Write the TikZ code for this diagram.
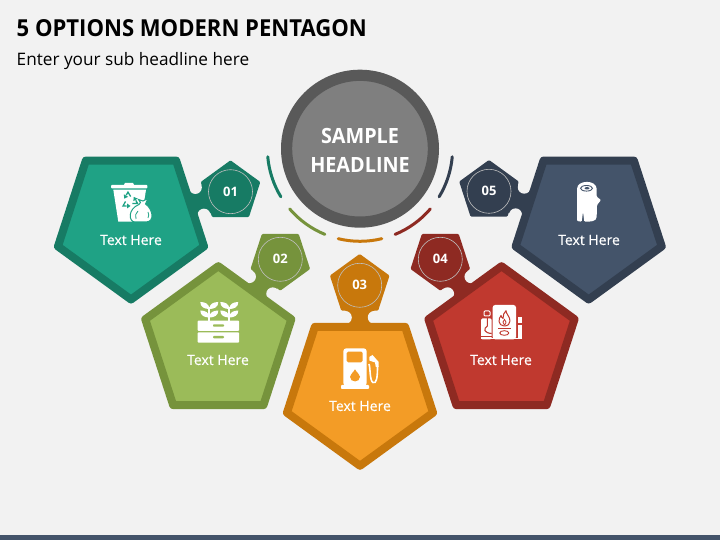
\documentclass[tikz,border=0pt]{standalone}
\usepackage{fontspec}
\setmainfont{Open Sans}
\newfontfamily\narrowfont[FakeStretch=0.943]{Open Sans}
\newfontfamily\labelfont[FakeBold=0.25]{Open Sans}
\usetikzlibrary{shapes.geometric,calc,backgrounds}
\definecolor{pagegray}{HTML}{F2F2F2}
\definecolor{hubdark}{HTML}{595959}
\definecolor{hublight}{HTML}{7F7F7F}
\definecolor{stripblue}{HTML}{44546A}
\definecolor{optdark1}{HTML}{177B64}
\definecolor{optlight1}{HTML}{1FA285}
\definecolor{optdark2}{HTML}{76933C}
\definecolor{optlight2}{HTML}{9BBB59}
\definecolor{optdark3}{HTML}{C8780C}
\definecolor{optlight3}{HTML}{F39C26}
\definecolor{optdark4}{HTML}{8E2A22}
\definecolor{optlight4}{HTML}{C0392F}
\definecolor{optdark5}{HTML}{333F50}
\definecolor{optlight5}{HTML}{44546A}
\tikzset{
    bigpent/.style={regular polygon, regular polygon sides=5, minimum size=153.6pt,
        inner sep=0pt, outer sep=0pt, line width=8pt, line join=round},
    smallpent/.style={regular polygon, regular polygon sides=5, minimum size=59pt,
        inner sep=0pt, outer sep=0pt, line width=3pt, line join=round},
    numring/.style={circle, draw=white!75!black, line width=0.6pt, minimum size=44pt,
        inner sep=0pt, text=white, font=\fontsize{13}{13}\selectfont\bfseries},
    optlabel/.style={text=white, inner sep=0pt, font=\labelfont\fontsize{14}{14}\selectfont},
    neck/.style={line width=29pt},
    guidearc/.style={line width=3pt, line cap=round}
}
\begin{document}
\begin{tikzpicture}[x=1pt,y=1pt]
    \useasboundingbox (0,0) rectangle (720,540);
    % Heading
    \node[anchor=base west, inner sep=0pt, font=\narrowfont\fontsize{23.4}{24}\selectfont\bfseries] (title) at (16.5,503.3) {5 OPTIONS MODERN PENTAGON};
    \node[anchor=base west, inner sep=0pt, font=\fontsize{17.2}{18}\selectfont] (subtitle) at (16.5,474) {Enter your sub headline here};
    % Hub
    \node[circle, draw=hubdark, fill=hublight, line width=11.2pt, minimum size=146.8pt, inner sep=0pt, outer sep=0pt] (hub) at (360,391.3) {};
    \node[text=white, align=center, inner sep=0pt, font=\narrowfont\fontsize{21}{29.3}\selectfont\bfseries] (hubtext) at (360,389.3) {SAMPLE\\HEADLINE};
    % Pentagons
    \foreach \i/\bx/\by/\brot/\sx/\sy/\srot in {
        1/131/317.3/180/230.5/348.3/0,
        2/218.3/197/0/280.3/280.7/180,
        3/360/151/180/359.7/254.7/0,
        4/501.5/197/0/440.3/280.7/180,
        5/588.7/317.3/180/489/348.7/0} {
        \node[bigpent, draw=optdark\i, fill=optlight\i, shape border rotate=\brot] (big\i) at (\bx,\by) {};
        \node[smallpent, draw=optdark\i, fill=optdark\i, shape border rotate=\srot] (small\i) at (\sx,\sy) {};
        \node[numring] (ring\i) at (small\i) {0\i};
    }
    \foreach \i/\lx/\ly in {1/131/300, 2/218/180, 3/360/134, 4/501/180, 5/589/300} {
        \node[optlabel] (label\i) at (\lx,\ly) {Text Here};
    }
    % Arcs round the hub
    \foreach \i/\a/\b in {1/185/211.3, 2/220.6/247.7, 3/256.4/283.6, 4/292.3/319.4, 5/328.7/355} {
        \draw[guidearc, optdark\i] ($(hub)+(\a:92.6pt)$) arc[start angle=\a, end angle=\b, radius=92.6pt];
    }
    % Page, strip and necks go under the pentagons
    \begin{scope}[on background layer]
        \fill[pagegray] (0,0) rectangle (720,540);
        \fill[stripblue] (0,0) rectangle (720,5);
        \foreach \i in {1,...,5} {
            \draw[neck, optdark\i] (big\i.center) -- (small\i.center);
            \fill[pagegray] ($(big\i)!0.69!(small\i)!14.5pt!90:(small\i)$) circle[radius=6.5pt];
            \fill[pagegray] ($(big\i)!0.69!(small\i)!14.5pt!-90:(small\i)$) circle[radius=6.5pt];
        }
    \end{scope}
    % Icons, in the coordinates of the page seen from the top
    \begin{scope}[shift={(0,540)},y=-1pt]
        % bin and bag
        \fill[white] (124,185) -- (125,183) -- (133,183) -- (134,185) -- cycle;
        \fill[white, rounded corners=0.8pt] (111,185) rectangle (147.3,188.3);
        \fill[white] (113.3,189.7) -- (146,189.7) -- (141,221.7) -- (118.3,221.7) -- cycle;
        \foreach \a in {0,120,240} {
            \draw[optlight1, line width=1.3pt, rotate around={\a:(129.5,200.5)}] (126.5,206) -- (123,206) -- (125.5,201.5);
            \fill[optlight1, rotate around={\a:(129.5,200.5)}] (127,203.5) -- (127,208.5) -- (130.5,206) -- cycle;
        }
        \draw[fill=white, draw=optlight1, line width=1pt] (135,222) .. controls (128.5,222) and (127.5,209) .. (139,204.5) -- (140.5,202.5) -- (138.5,199.5) -- (143,201) -- (148,198.5) -- (145.5,204) .. controls (153,209) and (155,222) .. (146,222) -- cycle;
        \draw[optlight1, line width=0.8pt] (138,211) .. controls (135.5,213) and (135,216) .. (136,219);
        \draw[optlight1, line width=0.8pt] (148,212) .. controls (149,214) and (149,216) .. (148,218);
        % planter
        \foreach \sx in {209.3,229.3} {
            \fill[white] (\sx-1,307) rectangle (\sx+1,321);
            \foreach \lfy in {309,317.5} {
                \fill[white] (\sx,\lfy) .. controls (\sx-5,\lfy) and (\sx-9,\lfy-2) .. (\sx-9,\lfy-7) .. controls (\sx-4,\lfy-7) and (\sx,\lfy-5) .. (\sx,\lfy) -- cycle;
                \fill[white] (\sx,\lfy) .. controls (\sx+5,\lfy) and (\sx+9,\lfy-2) .. (\sx+9,\lfy-7) .. controls (\sx+4,\lfy-7) and (\sx,\lfy-5) .. (\sx,\lfy) -- cycle;
            }
        }
        \fill[white, rounded corners=0.8pt] (197.7,320.7) rectangle (239,331);
        \fill[white, rounded corners=0.8pt] (197.7,332.3) rectangle (239,342.7);
        \fill[optlight2, rounded corners=0.8pt] (213,324.3) rectangle (224,326.6);
        \fill[optlight2, rounded corners=0.8pt] (213,336) rectangle (224,338.3);
        % fuel pump
        \fill[white, rounded corners=3pt] (343.3,386) -- (343.3,348.3) -- (366.7,348.3) -- (366.7,386) -- cycle;
        \fill[white, rounded corners=0.8pt] (341,385) rectangle (369,389);
        \fill[optlight3, rounded corners=1.5pt] (346.7,351.7) rectangle (362.7,362.3);
        \fill[optlight3] (355,369.3) .. controls (353,373) and (350,374.5) .. (350,376.7) .. controls (350,383) and (360,383) .. (360,376.7) .. controls (360,374.5) and (357,373) .. (355,369.3) -- cycle;
        \fill[white] (369.3,357) -- (372.5,355) -- (378.7,362) -- (378.7,367) -- (375.8,367) -- (375,362.5) -- (369.3,360.5) -- cycle;
        \draw[white, line width=1.6pt] (369,364) .. controls (370.5,368) and (369.5,380.5) .. (373,382.5) .. controls (376.5,384) and (377.5,378) .. (377.5,366);
        % boiler
        \fill[white, rounded corners=2.5pt] (492.7,339.3) -- (492.7,305) -- (516,305) -- (516,339.3) -- cycle;
        \fill[white] (481,339.3) rectangle (522,338);
        \fill[white] (518,316.7) rectangle (522,322.7);
        \fill[white] (518,325) rectangle (522,339.3);
        \fill[white, rounded corners=1.5pt] (481,339.3) -- (481,318.3) -- (491.7,318.3) -- (491.7,339.3) -- cycle;
        \draw[white, line width=1pt, rounded corners=1pt] (484,311) rectangle (490,316);
        \draw[optlight4, line width=1.1pt] (487.3,317) -- (487.3,326) .. controls (483,329) and (484,333) .. (491.7,333.5);
        \draw[optlight4, line width=0.8pt] (481,336) -- (491.7,336);
        \draw[optlight4, line width=1pt, line join=round] (504,326) .. controls (498,325.5) and (498,319) .. (501,315.5) .. controls (501.5,317) and (502,318) .. (503,318.5) .. controls (503,315) and (504,312.5) .. (506,310.7) .. controls (506,314) and (510,316.5) .. (510,321) .. controls (510,324) and (508,326) .. (504,326) -- cycle;
        \draw[optlight4, line width=0.8pt] (504.3,325) .. controls (502,323) and (503,321) .. (504.5,319.5) .. controls (506,321) and (507,323) .. (504.3,325);
        \draw[optlight4, line width=0.9pt] (498,328.7) -- (511,328.7);
        \draw[optlight4, line width=0.9pt] (504.3,333) ellipse[x radius=4.5pt, y radius=2.3pt];
        % log
        \fill[white, rounded corners=1pt] (577,221) -- (577,190) .. controls (577,179.5) and (596.7,179.5) .. (596.7,190) -- (596.7,196.7) -- (601,200) -- (597,205) -- (596.7,216) .. controls (596.5,221.7) and (590,221.7) .. (584.3,221.7) -- (583,211.7) -- (581.7,221.7) -- cycle;
        \draw[optlight5, line width=0.9pt] (586.5,188.3) ellipse[x radius=6pt, y radius=2.8pt];
        \fill[optlight5] (587,188.3) ellipse[x radius=2.5pt, y radius=1.2pt];
    \end{scope}
\end{tikzpicture}
\end{document}
